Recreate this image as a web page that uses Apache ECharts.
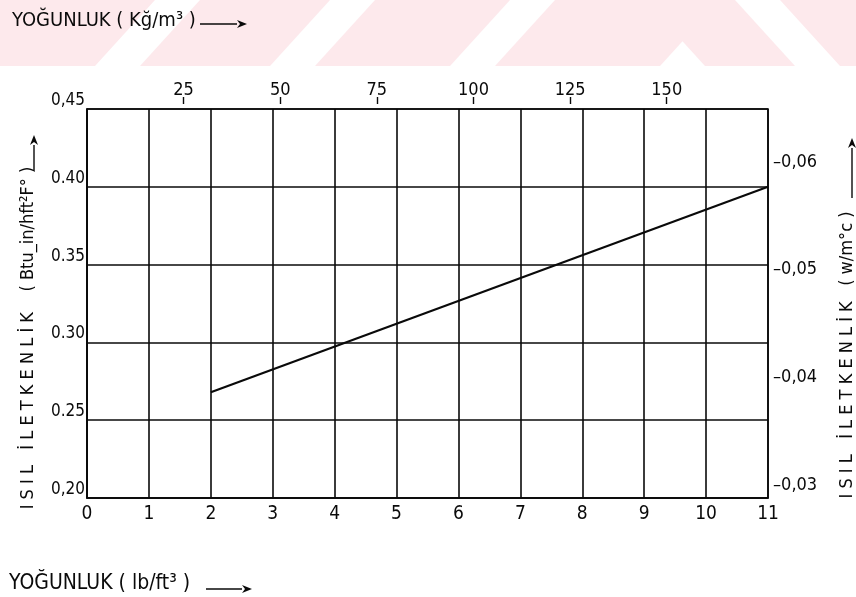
<!DOCTYPE html>
<html>
<head>
<meta charset="utf-8">
<title>Yoğunluk - Isıl İletkenlik</title>
<script src="https://cdn.jsdelivr.net/npm/echarts@6/dist/echarts.min.js"></script>
<style>
    html, body { margin: 0; padding: 0; background: #fff; }
    #chart { width: 856px; height: 597px; }
</style>
</head>
<body>
<div id="chart"></div>
<script>
// veri: yoğunluk (lb/ft3) ve ısıl iletkenlik (Btu in / h ft2 F)
var densityLb = [2, 11];
var conductivity = [0.268, 0.400];

// eksen etiketleri
var leftLabels = ['0,20', '0.25', '0.30', '0.35', '0.40', '0,45'];
var topValues = [25, 50, 75, 100, 125, 150];      // kg/m3
var rightValues = [0.03, 0.04, 0.05, 0.06];        // W/m C
var rightLabels = ['0,03', '0,04', '0,05', '0,06'];

var LB_TO_KG = 16.018;     // lb/ft3 -> kg/m3
var BTU_TO_W = 0.144228;   // Btu in/h ft2 F -> W/m C

var FONT = '"Liberation Sans Narrow", "DejaVu Sans Condensed", "Liberation Sans", sans-serif';
var INK = '#0a0a0a';

// arka plandaki pembe filigran şeritleri
function stripe(x0, x1, shift) {
    return {
        type: 'polygon',
        silent: true,
        z: -10,
        shape: { points: [[x0, 66], [x1, 66], [x1 + shift, 0], [x0 + shift, 0]] },
        style: { fill: '#fde9ec' }
    };
}

function arrow(x1, y1, x2, y2) {
    var ang = Math.atan2(y2 - y1, x2 - x1);
    var L = 10, W = 4;
    var bx = x2 - L * Math.cos(ang), by = y2 - L * Math.sin(ang);
    return [{
        type: 'line',
        shape: { x1: x1, y1: y1, x2: bx, y2: by },
        style: { stroke: INK, lineWidth: 1.4 }
    }, {
        type: 'polygon',
        shape: { points: [[x2, y2],
            [bx - W * Math.sin(ang), by + W * Math.cos(ang)],
            [bx + 3 * Math.cos(ang), by + 3 * Math.sin(ang)],
            [bx + W * Math.sin(ang), by - W * Math.cos(ang)]] },
        style: { fill: INK }
    }];
}

var graphics = [
    stripe(-60, 95, 60), stripe(140, 270, 60), stripe(315, 450, 60),
    stripe(495, 660, 60), stripe(705, 795, -60), stripe(840, 940, -60),
    {
        type: 'text', left: 12, top: 11,
        style: { text: 'YOĞUNLUK ( Kğ/m³ )', font: '20px ' + FONT, fill: INK }
    },
    {
        type: 'text', left: 9, top: 573,
        style: { text: 'YOĞUNLUK ( lb/ft³ )', font: '21px ' + FONT, fill: INK }
    },
    {
        type: 'text', x: 28, y: 338, rotation: Math.PI / 2,
        style: {
            text: 'I S I L   İ L E T K E N L İ K    ( Btu_in/hft²F° )',
            font: '18px ' + FONT, fill: INK, align: 'center', verticalAlign: 'middle'
        }
    },
    {
        type: 'text', x: 847, y: 355, rotation: Math.PI / 2,
        style: {
            text: 'I S I L   İ L E T K E N L İ K   ( w/m°c )',
            font: '18px ' + FONT, fill: INK, align: 'center', verticalAlign: 'middle'
        }
    }
];
graphics = graphics.concat(arrow(200, 24, 247, 24), arrow(206, 589, 252, 589),
    arrow(34, 170, 34, 135), arrow(852, 198, 852, 138));

var lineData = [];
for (var i = 0; i < densityLb.length; i++) {
    lineData.push([densityLb[i], conductivity[i]]);
}

var myChart = echarts.init(document.getElementById('chart'), null, { renderer: 'canvas' });
var option = {
    backgroundColor: '#fff',
    animation: false,
    textStyle: { fontFamily: FONT },
    grid: {
        left: 87,
        right: 88,
        top: 109,
        bottom: 99,
        outerBoundsMode: 'none',
        show: true,
        borderColor: INK,
        borderWidth: 1.6
    },
    graphic: graphics,
    xAxis: [{
        type: 'value',
        position: 'bottom',
        min: 0,
        max: 11,
        interval: 1,
        axisLine: { show: true, lineStyle: { color: INK, width: 1.6 } },
        axisTick: { show: false },
        splitLine: { show: true, lineStyle: { color: INK, width: 1.6 } },
        axisLabel: { color: INK, fontSize: 19, margin: 7, fontFamily: FONT }
    }, {
        // üst eksen: kg/m3
        type: 'value',
        position: 'top',
        min: 0,
        max: 11 * LB_TO_KG,
        offset: 5,
        axisLine: { show: false },
        axisTick: {
            show: true, length: 7, customValues: topValues,
            lineStyle: { color: INK, width: 1.4 }
        },
        splitLine: { show: false },
        axisLabel: {
            color: INK, fontSize: 18, margin: 5, fontFamily: FONT,
            customValues: topValues
        }
    }],
    yAxis: [{
        type: 'value',
        position: 'left',
        min: 0.2,
        max: 0.45,
        interval: 0.05,
        axisLine: { show: true, lineStyle: { color: INK, width: 1.6 } },
        axisTick: { show: false },
        splitLine: { show: true, lineStyle: { color: INK, width: 1.6 } },
        axisLabel: {
            color: INK, fontSize: 17, margin: 2, fontFamily: FONT,
            verticalAlign: 'bottom',
            formatter: function(value) {
                return leftLabels[Math.round((value - 0.2) / 0.05)];
            }
        }
    }, {
        // sağ eksen: W/m C (çentik, etiketin başındaki tire)
        type: 'value',
        position: 'right',
        min: 0.2 * BTU_TO_W,
        max: 0.45 * BTU_TO_W,
        axisLine: { show: false },
        axisTick: { show: false },
        splitLine: { show: false },
        axisLabel: {
            color: INK, fontSize: 18, margin: 5, fontFamily: FONT,
            customValues: rightValues,
            formatter: function(value) {
                for (var k = 0; k < rightValues.length; k++) {
                    if (Math.abs(rightValues[k] - value) < 1e-6) return '–' + rightLabels[k];
                }
                return '';
            }
        }
    }],
    series: [{
        type: 'line',
        xAxisIndex: 0,
        yAxisIndex: 0,
        data: lineData,
        symbol: 'none',
        lineStyle: { color: INK, width: 2.2 }
    }]
};
myChart.setOption(option);
window.addEventListener('resize', function() {
    myChart.resize();
});
</script>
</body>
</html>
